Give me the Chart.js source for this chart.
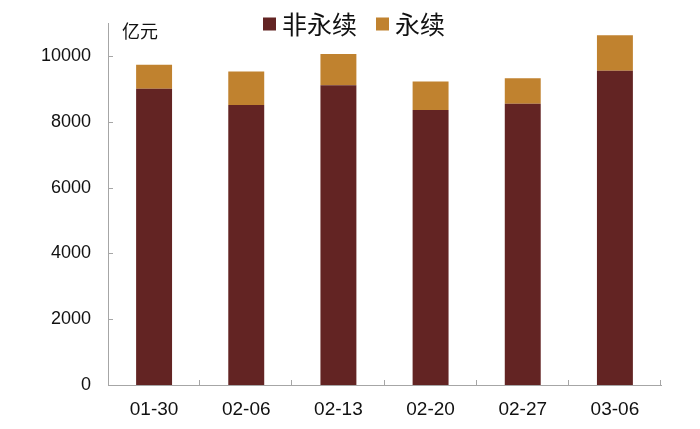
<!DOCTYPE html>
<html>
<head>
<meta charset="utf-8">
<script src="https://cdn.jsdelivr.net/npm/chart.js@4.4.1/dist/chart.umd.min.js"></script>
<style>
  html, body { margin: 0; padding: 0; background: #ffffff; }
  #wrap { width: 700px; height: 429px; position: relative; }
</style>
</head>
<body>
<div id="wrap"><canvas id="c" width="700" height="429"></canvas></div>
<script>
const categories = ['01-30', '02-06', '02-13', '02-20', '02-27', '03-06'];
const nonPerpetual = [9000, 8510, 9110, 8360, 8550, 9550];
const perpetual = [730, 1020, 950, 860, 770, 1080];
const seriesNames = ['非永续', '永续'];
const unitLabel = '亿元';
const yTickValues = [0, 2000, 4000, 6000, 8000, 10000];

const colDark = '#632423';
const colOrange = '#C0822F';
const axisColor = '#a6a6a6';
const numFont = '"Liberation Sans", Arial, sans-serif';
const cjkFont = '"Noto Sans CJK SC", "Noto Sans", sans-serif';

const decorPlugin = {
  id: 'decor',
  afterDraw(chart) {
    const ctx = chart.ctx;
    const ys = chart.scales.y;
    const area = chart.chartArea;
    ctx.save();
    ctx.strokeStyle = axisColor;
    ctx.lineWidth = 1;
    yTickValues.forEach(v => {
      if (v === 0) return;
      const py = Math.round(ys.getPixelForValue(v)) + 0.5;
      ctx.beginPath();
      ctx.moveTo(area.left, py);
      ctx.lineTo(area.left + 5, py);
      ctx.stroke();
    });
    const n = categories.length;
    for (let i = 1; i <= n; i++) {
      const px = Math.round(area.left + (area.right - area.left) * i / n) - 0.5;
      ctx.beginPath();
      ctx.moveTo(px, area.bottom);
      ctx.lineTo(px, area.bottom - 5);
      ctx.stroke();
    }
    ctx.fillStyle = '#111';
    ctx.font = '18px ' + cjkFont;
    ctx.textAlign = 'left';
    ctx.textBaseline = 'middle';
    ctx.fillText(unitLabel, 122, 31);
    ctx.font = '25px ' + cjkFont;
    const colors = [colDark, colOrange];
    let x = 263;
    const cy = 24;
    seriesNames.forEach((name, i) => {
      ctx.fillStyle = colors[i];
      ctx.fillRect(x, cy - 6.5, 13, 13);
      x += 19;
      ctx.fillStyle = '#111';
      ctx.fillText(name, x, cy);
      x += ctx.measureText(name).width + 19;
    });
    ctx.restore();
  }
};

new Chart(document.getElementById('c'), {
  type: 'bar',
  data: {
    labels: categories,
    datasets: [
      { label: seriesNames[0], data: nonPerpetual, backgroundColor: colDark, borderWidth: 0 },
      { label: seriesNames[1], data: perpetual, backgroundColor: colOrange, borderWidth: 0 }
    ]
  },
  options: {
    responsive: false,
    animation: false,
    devicePixelRatio: 1,
    layout: { padding: { top: 23, right: 39, left: 0, bottom: 0 } },
    plugins: { legend: { display: false }, tooltip: { enabled: false } },
    datasets: { bar: { categoryPercentage: 1.0, barPercentage: 0.39 } },
    scales: {
      x: {
        stacked: true,
        grid: { display: false, drawTicks: false },
        border: { display: true, color: axisColor, width: 1 },
        ticks: { color: '#111', font: { size: 19, family: numFont }, padding: 13, maxRotation: 0 },
        afterFit(s) { s.height = 44; s.paddingLeft = 0; s.paddingRight = 0; }
      },
      y: {
        stacked: true,
        min: 0,
        max: 11000,
        grid: { display: false, drawTicks: false },
        border: { display: true, color: axisColor, width: 1 },
        ticks: { stepSize: 2000, color: '#111', font: { size: 18, family: numFont }, padding: 17,
                 callback: v => String(v) },
        afterBuildTicks(s) { s.ticks = yTickValues.map(v => ({ value: v })); },
        afterFit(s) { s.width = 108; s.paddingTop = 0; s.paddingBottom = 0; }
      }
    }
  },
  plugins: [decorPlugin]
});
</script>
</body>
</html>
